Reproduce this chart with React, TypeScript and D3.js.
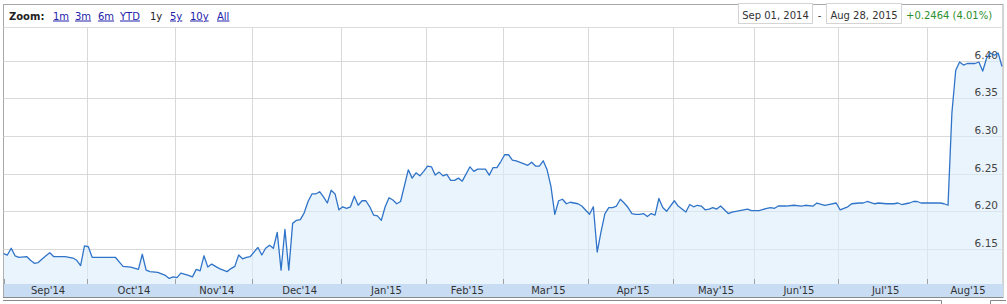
import React from 'react';
import * as d3 from 'd3';

// ---------- DATA (day of month, value) ----------
const sep2014: [number, number][] = [[1,6.144],[2,6.142],[3,6.151],[4,6.141],[5,6.139],[9,6.140],[10,6.135],[11,6.131],[12,6.132],[16,6.141],[17,6.145],[18,6.140],[22,6.140],[23,6.140],[25,6.138],[26,6.135],[29,6.128],[30,6.154]];
const oct2014: [number, number][] = [[1,6.153],[2,6.139],[10,6.139],[14,6.127],[16,6.126],[20,6.123],[21,6.143],[22,6.122],[23,6.120],[27,6.119],[29,6.115],[30,6.111],[31,6.113]];
const nov2014: [number, number][] = [[3,6.112],[4,6.118],[6,6.115],[7,6.113],[10,6.123],[11,6.121],[12,6.141],[13,6.126],[14,6.130],[18,6.124],[20,6.120],[21,6.124],[24,6.127],[25,6.142],[26,6.137],[27,6.139],[28,6.140]];
const dec2014: [number, number][] = [[2,6.152],[3,6.142],[4,6.151],[5,6.155],[8,6.151],[9,6.172],[10,6.122],[11,6.176],[12,6.122],[15,6.184],[16,6.188],[17,6.189],[18,6.198],[19,6.213],[22,6.223],[23,6.223],[24,6.226],[25,6.219],[26,6.211],[29,6.228],[30,6.223],[31,6.202]];
const jan2015: [number, number][] = [[1,6.206],[2,6.204],[5,6.206],[6,6.220],[7,6.208],[8,6.214],[9,6.214],[12,6.206],[13,6.195],[14,6.194],[15,6.188],[16,6.206],[19,6.218],[20,6.215],[21,6.210],[22,6.213],[26,6.255],[27,6.244],[28,6.251],[29,6.247],[30,6.253]];
const feb2015: [number, number][] = [[2,6.260],[3,6.259],[4,6.248],[5,6.252],[6,6.247],[9,6.249],[10,6.241],[11,6.241],[12,6.244],[13,6.240],[17,6.259],[18,6.253],[19,6.256],[20,6.256],[23,6.256],[24,6.248],[25,6.258],[26,6.258],[27,6.266]];
const mar2015: [number, number][] = [[2,6.275],[3,6.275],[4,6.268],[5,6.267],[6,6.265],[9,6.263],[10,6.261],[11,6.265],[12,6.260],[13,6.260],[16,6.267],[17,6.255],[18,6.233],[19,6.196],[20,6.214],[23,6.216],[24,6.210],[25,6.212],[26,6.211],[27,6.210],[30,6.207]];
const apr2015: [number, number][] = [[1,6.196],[2,6.206],[3,6.146],[6,6.173],[7,6.197],[8,6.205],[9,6.205],[10,6.207],[13,6.216],[14,6.211],[15,6.205],[16,6.197],[17,6.196],[20,6.196],[21,6.197],[22,6.193],[23,6.197],[24,6.195],[27,6.217],[28,6.205],[29,6.200]];
const may2015: [number, number][] = [[1,6.214],[4,6.207],[6,6.199],[7,6.209],[8,6.206],[11,6.208],[12,6.207],[13,6.202],[14,6.203],[15,6.205],[18,6.203],[19,6.207],[21,6.197],[22,6.199],[26,6.201],[27,6.202],[28,6.203],[29,6.201]];
const jun2015: [number, number][] = [[2,6.201],[4,6.204],[5,6.205],[8,6.204],[9,6.207],[11,6.207],[15,6.208],[17,6.207],[18,6.208],[22,6.207],[23,6.211],[25,6.208],[26,6.209],[30,6.211]];
const jul2015: [number, number][] = [[1,6.202],[3,6.206],[6,6.210],[8,6.211],[9,6.211],[10,6.213],[14,6.210],[15,6.211],[17,6.210],[21,6.210],[22,6.211],[23,6.209],[24,6.210],[27,6.211],[28,6.213],[29,6.213],[30,6.211],[31,6.211]];
const aug2015: [number, number][] = [[3,6.211],[4,6.211],[6,6.211],[7,6.210],[10,6.208],[11,6.330],[12,6.387],[13,6.398],[14,6.394],[17,6.396],[18,6.396],[19,6.396],[20,6.398],[21,6.386],[24,6.403],[25,6.410],[26,6.407],[27,6.410],[28,6.392]];

const monthYears: [number, number][] = [[2014,9],[2014,10],[2014,11],[2014,12],[2015,1],[2015,2],[2015,3],[2015,4],[2015,5],[2015,6],[2015,7],[2015,8]];
const monthData = [sep2014, oct2014, nov2014, dec2014, jan2015, feb2015, mar2015, apr2015, may2015, jun2015, jul2015, aug2015];
const monthLabels = ["Sep'14","Oct'14","Nov'14","Dec'14","Jan'15","Feb'15","Mar'15","Apr'15","May'15","Jun'15","Jul'15","Aug'15"];
const yTicks = [6.15, 6.20, 6.25, 6.30, 6.35, 6.40];
const zoomButtons = ["1m","3m","6m","YTD","1y","5y","10y","All"];
const selectedZoom = "1y";
const rangeFrom = "Sep 01, 2014";
const rangeTo = "Aug 28, 2015";
const changeText = "+0.2464 (4.01%)";

// ---------- helpers ----------
const origin = new Date(Date.UTC(2014, 8, 1));
function weekdayIndex(y: number, m: number, d: number): number {
  const end = new Date(Date.UTC(y, m - 1, d));
  return d3.utcDay.range(origin, end).filter(t => { const w = t.getUTCDay(); return w !== 0 && w !== 6; }).length;
}
const lastIndex = weekdayIndex(2015, 8, 28);

type P = { i: number; v: number };
const points: P[] = [];
monthData.forEach((arr, k) => {
  const [yy, mm] = monthYears[k];
  arr.forEach(([d, v]) => points.push({ i: weekdayIndex(yy, mm, d), v }));
});

export default function App() {
  const W = 1007, H = 304;
  const left = 3.5, right = 1003, top = 27.5, bottom = 284, bandBottom = 297.5;
  const x = d3.scaleLinear().domain([0, lastIndex]).range([3.5, 1002]);
  const y = d3.scaleLinear().domain([6.15, 6.40]).range([249, 60.5]);

  const line = d3.line<P>().x(d => x(d.i)).y(d => y(d.v));
  const area = d3.area<P>().x(d => x(d.i)).y0(bottom).y1(d => y(d.v));

  const starts = monthYears.map(([yy, mm]) => weekdayIndex(yy, mm, 1));
  const gridX = starts.slice(1).map(s => x(s - 0.45));
  const bounds = [left, ...gridX, right];

  const zoomX = [53, 75, 98, 120, 150, 170, 190, 217];
  const font = "'DejaVu Sans', Verdana, sans-serif";

  return (
    <div style={{ position: 'absolute', left: 0, top: 0 }}>
      <svg width={W} height={H} style={{ display: 'block', fontFamily: font }}>
        <defs>
          <clipPath id="plotClip"><rect x={left} y={top} width={right - left} height={bottom - top} /></clipPath>
        </defs>
        <rect x={0} y={0} width={W} height={H} fill="#fff" />
        {/* frame */}
        <rect x={3.5} y={4.5} width={999.5} height={bandBottom - 4.5} fill="#fff" stroke="#a8a8a8" />
        <line x1={left} x2={right} y1={top} y2={top} stroke="#dcdcdc" />
        {/* toolbar */}
        <text x={9} y={19.5} fontSize={10} fontWeight="bold" fill="#222">Zoom:</text>
        {zoomButtons.map((b, k) => (
          <text key={b} x={zoomX[k]} y={19.5} fontSize={10}
            fill={b === selectedZoom ? '#222' : '#2222aa'}
            textDecoration={b === selectedZoom ? 'none' : 'underline'}>{b}</text>
        ))}
        <rect x={738.5} y={3.5} width={74} height={20} fill="#fff" stroke="#d4d4d4" />
        <text x={775.5} y={19} fontSize={10} fill="#333" textAnchor="middle">{rangeFrom}</text>
        <text x={819.5} y={19} fontSize={10} fill="#333" textAnchor="middle">-</text>
        <rect x={826.5} y={3.5} width={75} height={20} fill="#fff" stroke="#d4d4d4" />
        <text x={864} y={19} fontSize={10} fill="#333" textAnchor="middle">{rangeTo}</text>
        <text x={906} y={19} fontSize={10} fill="#2e8f2e">{changeText}</text>

        {/* grid */}
        {yTicks.map(t => (
          <line key={t} x1={left} x2={right} y1={Math.round(y(t)) + 0.5} y2={Math.round(y(t)) + 0.5} stroke="#d9d9d9" />
        ))}
        {gridX.map((gx, k) => (
          <line key={k} x1={Math.round(gx) + 0.5} x2={Math.round(gx) + 0.5} y1={top} y2={bottom} stroke="#d9d9d9" />
        ))}

        <g clipPath="url(#plotClip)">
          <path d={area(points) || ''} fill="#dcecfb" fillOpacity={0.6} />
        </g>
        {yTicks.map(t => (
          <text key={t} x={998} y={Math.round(y(t)) - 2} fontSize={10.5} fill="#444" textAnchor="end">{t.toFixed(2)}</text>
        ))}
        <g clipPath="url(#plotClip)">
          <path d={line(points) || ''} fill="none" stroke="#2f74c8" strokeWidth={1.3} strokeLinejoin="round" />
        </g>

        {/* x axis band */}
        <rect x={4} y={bottom} width={right - 4} height={bandBottom - bottom} fill="#c8ddf3" />
        {[left, ...gridX].map((gx, k) => (
          <line key={k} x1={Math.round(gx) + 0.5} x2={Math.round(gx) + 0.5} y1={bottom - 5} y2={bottom} stroke="#a0a0a0" />
        ))}
        {monthLabels.map((lab, k) => (
          <text key={lab} x={(bounds[k] + bounds[k + 1]) / 2 + 3} y={294} fontSize={10} fill="#333" textAnchor="middle">{lab}</text>
        ))}
        <line x1={3} x2={right} y1={bandBottom} y2={bandBottom} stroke="#8a8a8a" />
        {/* navigator outline (top edge visible) */}
        <path d={`M3 300.5 H941.5 V310 M990.5 310 V300.5 H1006`} fill="none" stroke="#888" />
      </svg>
    </div>
  );
}
